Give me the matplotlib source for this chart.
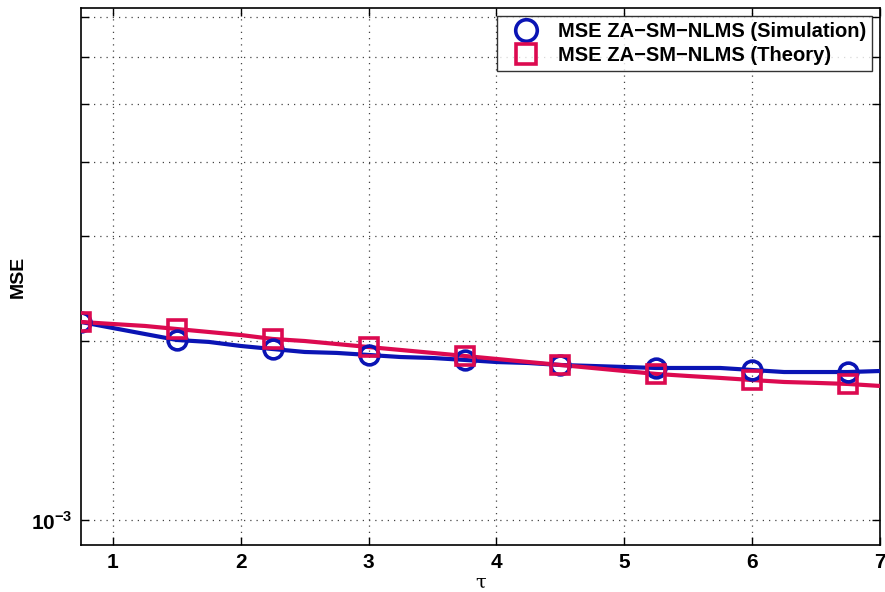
import numpy as np
import matplotlib
matplotlib.use("Agg")
import matplotlib.pyplot as plt
from matplotlib.ticker import FixedLocator, NullFormatter

# valores (MSE en unidades de 1e-3)
tau = [0.75, 1.0, 1.25, 1.5, 1.75, 2.0, 2.25, 2.5, 2.75, 3.0, 3.25, 3.5, 3.75,
       4.0, 4.25, 4.5, 4.75, 5.0, 5.25, 5.5, 5.75, 6.0, 6.25, 6.5, 6.75, 7.0]
mse_sim = [2.152, 2.102, 2.054, 2.007, 1.992, 1.961, 1.938, 1.916, 1.909, 1.894,
           1.879, 1.872, 1.858, 1.843, 1.836, 1.822, 1.815, 1.808, 1.801, 1.801,
           1.801, 1.787, 1.773, 1.773, 1.773, 1.780]
mse_teo = [2.152, 2.135, 2.119, 2.094, 2.070, 2.046, 2.015, 1.999, 1.976, 1.953,
           1.931, 1.909, 1.887, 1.865, 1.843, 1.822, 1.801, 1.780, 1.760, 1.746,
           1.733, 1.719, 1.706, 1.700, 1.693, 1.680]
cada = 3  # marcador cada 3 puntos

x = np.array(tau)
y_sim = np.array(mse_sim) * 1e-3
y_teo = np.array(mse_teo) * 1e-3

azul = "#0a14b4"
rojo = "#dc0a50"

plt.rcParams["font.family"] = ["Liberation Sans", "DejaVu Sans"]
plt.rcParams["mathtext.fontset"] = "custom"
plt.rcParams["mathtext.rm"] = "Liberation Sans:bold"
plt.rcParams["mathtext.bf"] = "Liberation Sans:bold"

fig = plt.figure(figsize=(8.85, 5.92), dpi=100)
ax = fig.add_axes([81 / 885, 47 / 592, 799 / 885, 537 / 592])

ax.plot(x, y_sim, color=azul, linewidth=3, zorder=3)
ax.plot(x, y_teo, color=rojo, linewidth=3, zorder=4)
ax.plot(x[::cada], y_sim[::cada], linestyle="none", marker="o", markersize=13.5,
        markeredgewidth=2.6, markerfacecolor="none", color=azul, zorder=5,
        label="MSE ZA\u2212SM\u2212NLMS (Simulation)")
ax.plot(x[::cada], y_teo[::cada], linestyle="none", marker="s", markersize=12.5,
        markeredgewidth=2.6, markerfacecolor="none", color=rojo, zorder=6,
        label="MSE ZA\u2212SM\u2212NLMS (Theory)")

ax.set_yscale("log")
ax.set_xlim(0.75, 7)
ax.set_ylim(9.08e-4, 7.25e-3)
ax.set_xticks([1, 2, 3, 4, 5, 6, 7])
ax.yaxis.set_major_locator(FixedLocator([1e-3]))
ax.yaxis.set_minor_locator(FixedLocator([2e-3, 3e-3, 4e-3, 5e-3, 6e-3, 7e-3]))
ax.yaxis.set_minor_formatter(NullFormatter())
ax.set_yticklabels([r"$10^{-3}$"])

ax.tick_params(which="both", direction="in", top=True, right=True, length=6, width=1, pad=6)
for lab in ax.get_xticklabels() + ax.get_yticklabels():
    lab.set_fontweight("bold")
    lab.set_fontsize(15)

ax.grid(True, which="major", linestyle=(0, (1, 4)), color="#444444", linewidth=0.9)
ax.grid(True, which="minor", axis="y", linestyle=(0, (1, 4)), color="#444444", linewidth=0.9)
for s in ax.spines.values():
    s.set_linewidth(1.2)

ax.set_xlabel("\u03c4", fontsize=14, family="DejaVu Serif", va="center")
ax.xaxis.set_label_coords(0.5, -0.071)
ax.set_ylabel("MSE", fontsize=14, fontweight="bold")
ax.yaxis.set_label_coords(-0.068, 0.5)

leg = ax.legend(loc="upper right", prop={"weight": "bold", "size": 14.5},
                frameon=True, fancybox=False, edgecolor="black", borderaxespad=0.4,
                handletextpad=0.4, borderpad=0.3, labelspacing=0.25, markerscale=1.15,
                handlelength=2.3)
leg.get_frame().set_linewidth(1.0)

fig.savefig("out.png", dpi=100)
